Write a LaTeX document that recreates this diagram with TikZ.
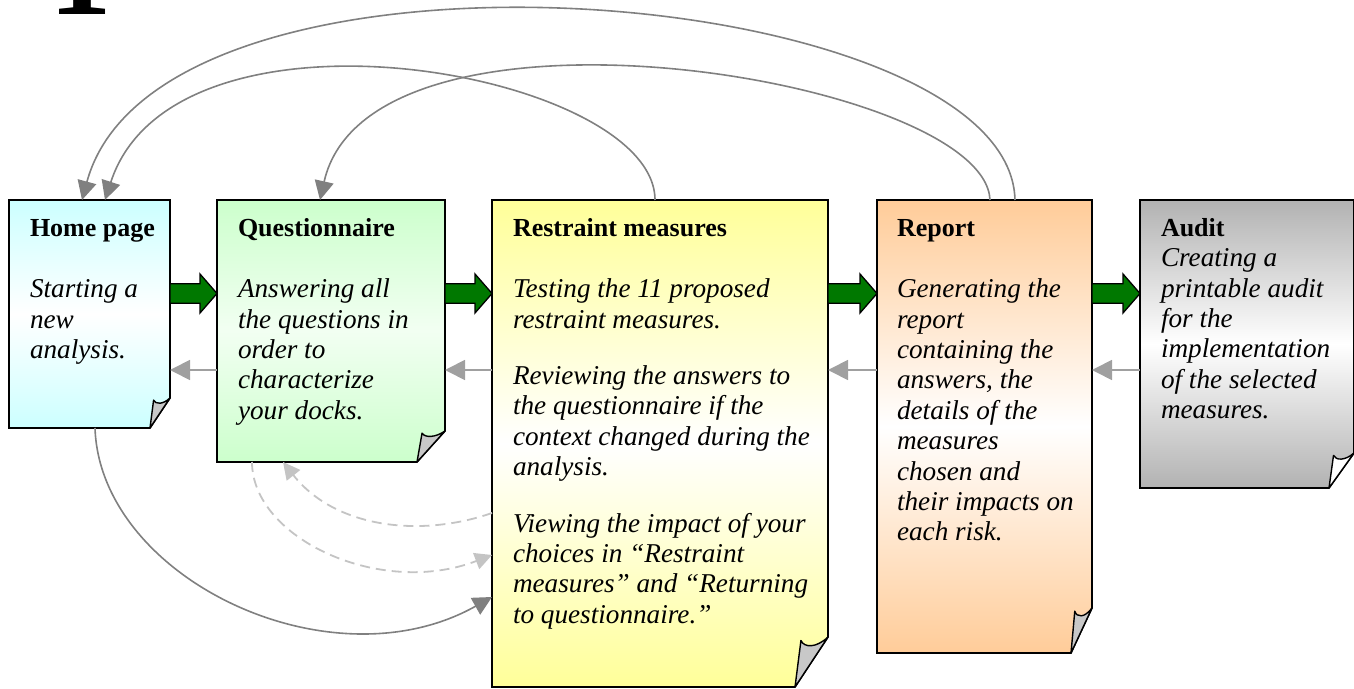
\documentclass[tikz,border=0pt]{standalone}
\usepackage{fontspec}
\setmainfont{Liberation Serif}
\usetikzlibrary{arrows.meta,calc}
\definecolor{homec}{HTML}{CCFFFF}
\definecolor{questc}{HTML}{CCFFCC}
\definecolor{questm}{HTML}{F2FFF2}
\definecolor{restc}{HTML}{FFFF99}
\definecolor{repc}{HTML}{FFCC99}
\definecolor{audc}{HTML}{B2B2B2}
\definecolor{flapc}{HTML}{C8C8C8}
\definecolor{garrowc}{HTML}{007800}
\definecolor{backc}{HTML}{A0A0A0}
\definecolor{loopc}{HTML}{808080}
\definecolor{dashc}{HTML}{C4C4C4}
\newcommand\docbox[6]{%
 \shadedraw[top color=#4, bottom color=#4, middle color=#5, line width=1.6pt, line join=miter]
   (#1.north west) -- (#1.north east) -- ([yshift=#3pt]#1.south east) -- ([xshift=-#2pt]#1.south east) -- (#1.south west) -- cycle;
 \filldraw[fill=#6, line width=1.4pt, line join=round]
   ([xshift=-#2pt]#1.south east) -- ($(#1.south east)+(-0.82*#2,0.93*#3)$)
   .. controls ($(#1.south east)+(-0.72*#2,0.78*#3)$) and ($(#1.south east)+(-0.35*#2,0.78*#3)$) .. ([yshift=#3pt]#1.south east) -- cycle;
}
\newcommand\greenarrow[2]{%
 \filldraw[fill=garrowc, draw=black, line width=1.3pt, line join=miter]
   let \p1=(#1.east), \p2=(#2.west) in
   (\x1, 404.25pt) -- (\x2-17pt, 404.25pt) -- (\x2-17pt, 414pt) -- (\x2, 394.5pt)
   -- (\x2-17pt, 375pt) -- (\x2-17pt, 384.75pt) -- (\x1, 384.75pt) -- cycle;
}
\newcommand\ttl[1]{{\fontsize{26}{30.4}\selectfont\upshape\bfseries #1}}
\tikzset{
 frame/.style={inner sep=0pt, outer sep=0pt, draw=none},
 txt/.style={anchor=north west, inner sep=0pt, outer sep=0pt, align=left, font=\fontsize{27.2}{30.4}\selectfont\itshape},
 backarrow/.style={draw=backc, line width=1.8pt, -{Triangle[length=20pt, width=20pt]}},
 looparrow/.style={draw=loopc, line width=1.6pt, -{Triangle[length=19pt, width=19pt]}},
 dasharrow/.style={draw=dashc, line width=1.8pt, dash pattern=on 10pt off 6pt, -{Triangle[length=17pt, width=17pt]}},
}
\begin{document}
\begin{tikzpicture}[x=1pt, y=1pt]
\useasboundingbox (0,0) rectangle (1354,688);
\clip (0,0) rectangle (1354,688);

% big partial numeral at the top
\node[anchor=base, inner sep=0pt, font=\fontsize{125}{125}\selectfont\bfseries] (one) at (81,673) {1};

% box frames
\node[frame, minimum width=161pt, minimum height=228pt] (home) at (89.5,374) {};
\node[frame, minimum width=228pt, minimum height=262pt] (quest) at (331,357) {};
\node[frame, minimum width=336pt, minimum height=487pt] (rest) at (660,244.5) {};
\node[frame, minimum width=215pt, minimum height=453pt] (rep) at (984.5,261.5) {};
\node[frame, minimum width=214pt, minimum height=288pt] (aud) at (1247,344) {};

\docbox{home}{20}{30}{homec}{white}{flapc}
\docbox{quest}{28}{31}{questc}{questm}{flapc}
\docbox{rest}{33}{50}{restc}{white}{flapc}
\docbox{rep}{21}{45}{repc}{white}{flapc}
\docbox{aud}{25}{35}{audc}{white}{white}

% texts
\node[txt] (hometxt) at (30,473) {\strut\ttl{Home page}\\[31pt]Starting a\\new\\analysis.};
\node[txt] (questtxt) at (238,473) {\strut\ttl{Questionnaire}\\[31pt]Answering all\\the questions in\\order to\\characterize\\your docks.};
\node[txt] (resttxt) at (513,473) {\strut\ttl{Restraint measures}\\[31pt]Testing the 11 proposed\\restraint measures.\\[26pt]Reviewing the answers to\\the questionnaire if the\\context changed during the\\analysis.\\[26pt]Viewing the impact of your\\choices in “Restraint\\measures” and “Returning\\to questionnaire.”};
\node[txt] (reptxt) at (897,473) {\strut\ttl{Report}\\[31pt]Generating the\\report\\containing the\\answers, the\\details of the\\measures\\chosen and\\their impacts on\\each risk.};
\node[txt] (audtxt) at (1161,473) {\strut\ttl{Audit}\\Creating a\\printable audit\\for the\\implementation\\of the selected\\measures.};

% forward green arrows
\greenarrow{home}{quest}
\greenarrow{quest}{rest}
\greenarrow{rest}{rep}
\greenarrow{rep}{aud}

% backward gray arrows
\coordinate (backy) at (0,318);
\draw[backarrow] (quest.west |- backy) -- (home.east |- backy);
\draw[backarrow] (rest.west |- backy) -- (quest.east |- backy);
\draw[backarrow] (rep.west |- backy) -- (rest.east |- backy);
\draw[backarrow] (aud.west |- backy) -- (rep.east |- backy);

% upper loops
\draw[looparrow] ($(rep.north west)+(138,0)$) .. controls +(-5,217) and +(78,287) .. ($(home.north west)+(73,0)$);
\draw[looparrow] ($(rest.north west)+(163,0)$) .. controls +(0,128) and +(70,215) .. ($(home.north west)+(96,0)$);
\draw[looparrow] ($(rep.north west)+(113,0)$) .. controls +(-5,122) and +(50,222) .. ($(quest.north west)+(103,0)$);

% lower loops
\draw[looparrow] ($(home.south west)+(86,0)$) .. controls +(5,-150) and +(-162,-91) .. ($(rest.south west)+(0,90)$);
\draw[dasharrow] ($(quest.south west)+(35,0)$) .. controls +(0,-76) and +(-112,-43) .. ($(rest.south west)+(0,132)$);
\draw[dasharrow] ($(rest.south west)+(0,174)$) .. controls +(-72,-25) and +(52,-66) .. ($(quest.south west)+(66,0)$);
\end{tikzpicture}
\end{document}
